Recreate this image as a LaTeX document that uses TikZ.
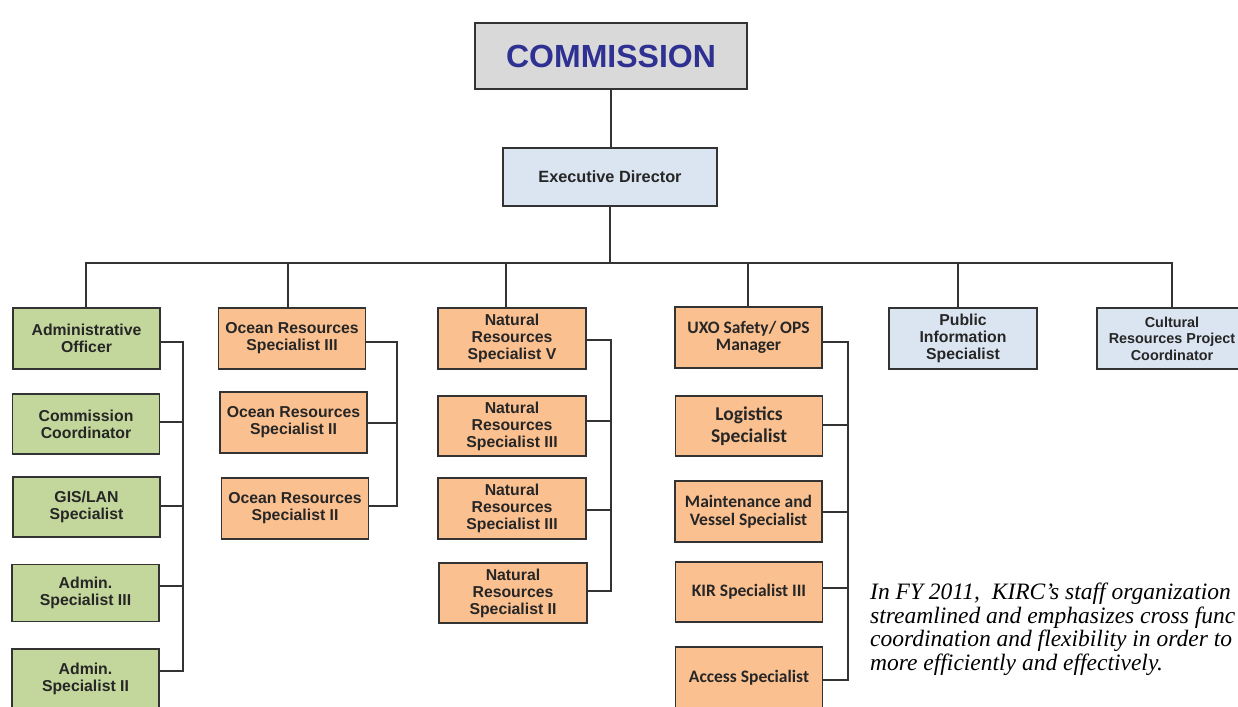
\documentclass[tikz,border=0pt]{standalone}
\usepackage{fontspec}
\setmainfont{Liberation Sans}
\newfontfamily\boxfont{Liberation Sans}
\newfontfamily\calfont{Carlito}
\newfontfamily\notefont{Liberation Serif}
\definecolor{gfill}{HTML}{C3D69B}
\definecolor{ofill}{HTML}{FAC090}
\definecolor{bfill}{HTML}{DBE5F1}
\definecolor{cfill}{HTML}{D9D9D9}
\definecolor{edge}{HTML}{333333}
\definecolor{navy}{HTML}{2E3192}
\begin{document}
\begin{tikzpicture}[x=1pt,y=-1pt,
  base/.style={draw=edge, line width=1.3pt, inner sep=0pt, align=center,
    font=\boxfont\bfseries\fontsize{15.8}{17}\selectfont, text=black!85},
  gbox/.style={base, fill=gfill, minimum width=147pt, minimum height=60pt},
  obox/.style={base, fill=ofill, minimum width=147pt, minimum height=60pt},
  bbox/.style={base, fill=bfill, minimum width=148pt, minimum height=61pt},
  cal/.style={font=\calfont\bfseries\fontsize{17.5}{17.5}\selectfont},
  wire/.style={draw=edge, line width=1.2pt}]
\useasboundingbox (0,0) rectangle (1238,706);
\clip (0,0) rectangle (1238,706);
\fill[white] (0,0) rectangle (1238,706);

% top
\node[base, fill=cfill, line width=2.6pt, minimum width=272pt, minimum height=66pt,
  font=\boxfont\bfseries\fontsize{32}{34}\selectfont, text=navy] (comm) at (611,56) {COMMISSION};
\node[bbox, minimum width=214pt, minimum height=58pt, font=\boxfont\bfseries\fontsize{16.3}{18}\selectfont] (ed) at (610,177) {Executive Director};

% administrative column
\node[gbox, minimum height=61pt] (a1) at (86.5,338.5) {Administrative\\Officer};
\node[gbox] (a2) at (86,424) {Commission\\Coordinator};
\node[gbox] (a3) at (86.5,507) {GIS/LAN\\Specialist};
\node[gbox, minimum height=57pt] (a4) at (85.5,593) {Admin.\\Specialist III};
\node[gbox, minimum height=60pt] (a5) at (85.5,679) {Admin.\\Specialist II};

% ocean column
\node[obox, minimum height=61pt] (o1) at (292,338.5) {Ocean Resources\\Specialist III};
\node[obox, minimum height=61pt] (o2) at (293.5,422.5) {Ocean Resources\\Specialist II};
\node[obox, minimum height=61pt] (o3) at (295,508.5) {Ocean Resources\\Specialist II};

% natural column
\node[obox, minimum width=148pt, minimum height=61pt] (n1) at (512,338.5) {Natural\\Resources\\Specialist V};
\node[obox, minimum width=148pt] (n2) at (512,426) {Natural\\Resources\\Specialist III};
\node[obox, minimum width=148pt, minimum height=61pt] (n3) at (512,508.5) {Natural\\Resources\\Specialist III};
\node[obox, minimum width=148pt] (n4) at (513,593) {Natural\\Resources\\Specialist II};

% UXO column
\node[obox, cal, minimum height=61pt] (u1) at (748.5,337.5) {UXO Safety/ OPS\\Manager};
\node[obox, cal, font=\calfont\bfseries\fontsize{19.5}{22}\selectfont] (u2) at (749,426) {Logistics\\Specialist};
\node[obox, cal, minimum height=61pt] (u3) at (748.5,511.5) {Maintenance and\\Vessel Specialist};
\node[obox, cal] (u4) at (749,592) {KIR Specialist III};
\node[obox, cal, minimum height=62pt] (u5) at (749,678) {Access Specialist};

% blue boxes
\node[bbox] (p1) at (963,338.5) {Public\\Information\\Specialist};
\node[bbox, minimum width=150pt, font=\boxfont\bfseries\fontsize{14.4}{16.5}\selectfont] (c1) at (1172,338.5) {Cultural\\Resources Project\\Coordinator};

% connectors from top
\draw[wire] (comm.south) -- (comm.south |- ed.north);
\coordinate (bar) at (610,263);
\draw[wire] (ed.south) -- (bar);
\draw[wire] (a1.north -| 86,0) |- (bar) -| (c1.north);
\draw[wire] (o1.north -| 288,0) -- (288,263);
\draw[wire] (n1.north -| 506,0) -- (506,263);
\draw[wire] (u1.north -| 748,0) -- (748,263);
\draw[wire] (p1.north -| 958,0) -- (958,263);

% side buses
\draw[wire] (a1.east |- 0,342) -| (183,671) -- (a5.east |- 0,671);
\draw[wire] (a2.east |- 0,422) -- (183,422);
\draw[wire] (a3.east |- 0,506) -- (183,506);
\draw[wire] (a4.east |- 0,586) -- (183,586);

\draw[wire] (o1.east |- 0,342) -| (397,506) -- (o3.east |- 0,506);
\draw[wire] (o2.east |- 0,423) -- (397,423);

\draw[wire] (n1.east |- 0,340) -| (611,591) -- (n4.east |- 0,591);
\draw[wire] (n2.east |- 0,421) -- (611,421);
\draw[wire] (n3.east |- 0,510) -- (611,510);

\draw[wire] (u1.east |- 0,342) -| (848,680) -- (u5.east |- 0,680);
\draw[wire] (u2.east |- 0,425) -- (848,425);
\draw[wire] (u3.east |- 0,512) -- (848,512);
\draw[wire] (u4.east |- 0,588) -- (848,588);

% note
\node[anchor=north west, inner sep=0pt, align=left,
  font=\notefont\itshape\fontsize{23.5}{23.5}\selectfont] (note) at (870,583)
  {In FY 2011,\ \ KIRC’s staff organization\\streamlined and emphasizes cross func\\coordination and flexibility in order to\\more efficiently and effectively.};
\end{tikzpicture}
\end{document}
